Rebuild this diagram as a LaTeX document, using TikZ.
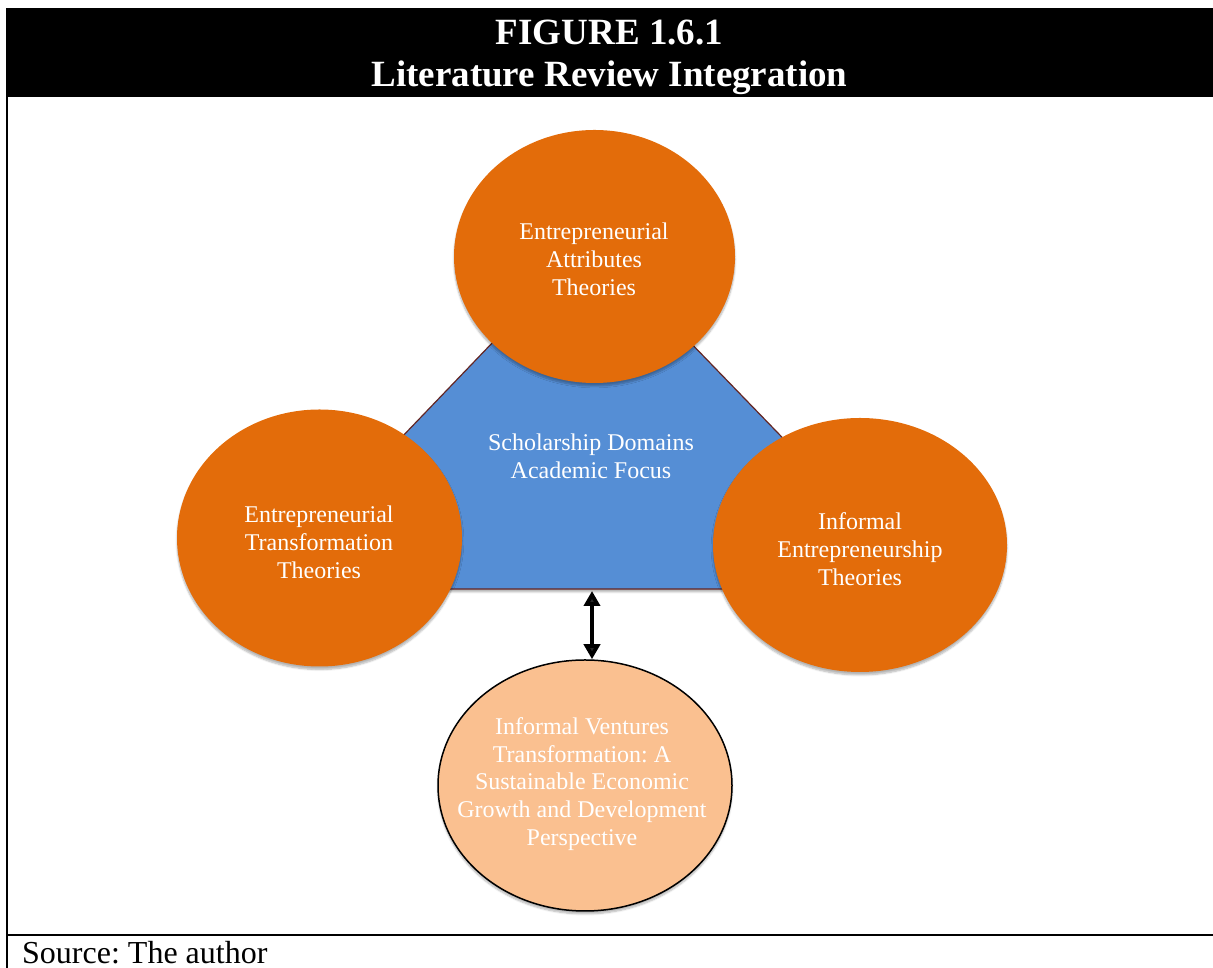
\documentclass[tikz,border=0pt]{standalone}
\usepackage{fontspec}
\setmainfont{Liberation Serif}
\usetikzlibrary{shapes.geometric,arrows.meta,shadows.blur}
\definecolor{orangeA}{HTML}{E36C0A}
\definecolor{orangeL}{HTML}{FAC090}
\definecolor{blueD}{HTML}{558ED5}
\definecolor{edgeR}{HTML}{632523}
\frenchspacing
\begin{document}
\begin{tikzpicture}[x=1pt,y=1pt,
  softshadow/.style={blur shadow={shadow xshift=0pt,shadow yshift=-3pt,shadow blur steps=6,shadow opacity=30}},
  bubble/.style={ellipse, fill=orangeA, inner sep=0pt, softshadow},
  outcome/.style={ellipse, fill=orangeL, draw=black, line width=1.5pt, inner sep=0pt, softshadow},
  blabel/.style={text=white, align=center, inner sep=0pt, font=\fontsize{24}{28}\selectfont},
  olabel/.style={text=white, align=center, inner sep=0pt, font=\fontsize{24}{27.7}\selectfont},
  header/.style={text=white, align=center, font=\bfseries\fontsize{37}{42}\selectfont},
  framelines/.style={line width=2pt, black},
  domainbox/.style={fill=blueD, draw=edgeR, line width=1.2pt, softshadow},
  dblarrow/.style={line width=4.5pt, {Triangle[length=15pt,width=16pt]}-{Triangle[length=15pt,width=16pt]}}
]
\useasboundingbox (0,0) rectangle (1213,968);
% header band
\fill[black] (6,871) rectangle (1213,960);
\node[header] (title) at (609.5,911) {FIGURE 1.6.1\\Literature Review Integration};
% frame lines
\draw[framelines] (7,871) -- (7,0);
\draw[framelines] (6,33) -- (1213,33);
% central triangle
\coordinate (tA) at (591,728);
\coordinate (tL) at (256,379);
\coordinate (tR) at (929,379);
\filldraw[domainbox] (tL) -- (tR) -- (tA) -- cycle;
\node[blabel] (dom) at (591,512) {Scholarship Domains\\Academic Focus};
% theory bubbles
\node[bubble, minimum width=281pt, minimum height=253pt] (top) at (594.5,711.5) {};
\node[blabel] (topL) at (594,709) {Entrepreneurial\\Attributes\\Theories};
\node[bubble, minimum width=285pt, minimum height=257pt] (left) at (319.5,430) {};
\node[blabel] (leftL) at (319,426) {Entrepreneurial\\Transformation\\Theories};
\node[bubble, minimum width=294pt, minimum height=254pt] (right) at (860,423) {};
\node[blabel] (rightL) at (860,419) {Informal\\Entrepreneurship\\Theories};
% outcome bubble
\node[outcome, minimum width=294pt, minimum height=251pt] (bot) at (585,182.5) {};
\node[olabel] (botL) at (582,184) {Informal Ventures\\Transformation: A\\Sustainable Economic\\Growth and Development\\Perspective};
% connector
\coordinate (base) at (592,377);
\draw[dblarrow] (base) -- (base |- bot.north);
% source
\node[anchor=base west, inner sep=0pt, font=\fontsize{32}{36}\selectfont] (src) at (22,4) {Source: The author};
\end{tikzpicture}
\end{document}
